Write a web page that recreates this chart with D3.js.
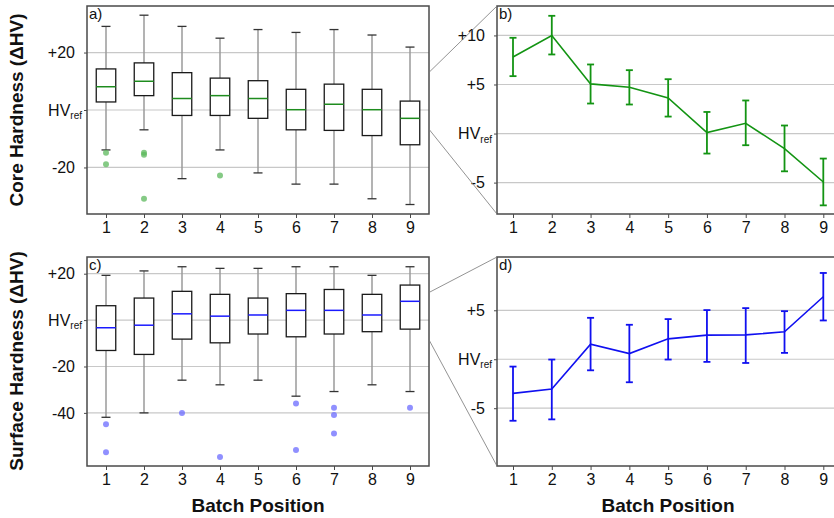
<!DOCTYPE html>
<html><head><meta charset="utf-8">
<script src="https://cdn.jsdelivr.net/npm/d3@7"></script>
<style>body{margin:0;background:#fff}svg{display:block}text{font-family:"Liberation Sans",Arial,sans-serif}</style>
</head><body><svg id="c" width="834" height="518"></svg>
<script>
const categories = [1,2,3,4,5,6,7,8,9];

const coreWhiskerHigh = [29.1, 33.0, 29.1, 25.0, 28.0, 27.0, 28.0, 26.1, 21.9];
const coreQ3          = [14.3, 16.4, 13.0, 11.1, 10.2, 7.2, 9.0, 7.2, 3.1];
const coreMedian      = [8.1, 10.0, 4.0, 5.0, 4.0, 0.1, 2.0, 0.1, -2.9];
const coreQ1          = [2.8, 5.0, -1.9, -1.9, -2.9, -6.9, -7.1, -8.9, -12.1];
const coreWhiskerLow  = [-13.9, -6.9, -23.9, -13.9, -21.9, -25.8, -25.8, -30.9, -32.9];
const coreOutliers    = [[-14.9, -18.9], [-14.9, -15.6, -30.9], [], [-22.8], [], [], [], [], []];

const surfWhiskerHigh = [19.3, 21.2, 23.0, 22.3, 22.3, 23.0, 23.0, 19.3, 23.0];
const surfQ3          = [6.2, 9.5, 12.4, 11.1, 9.5, 11.4, 13.2, 11.1, 15.1];
const surfMedian      = [-3.3, -2.2, 2.7, 1.7, 2.2, 4.2, 4.2, 2.2, 8.1];
const surfQ1          = [-13.1, -14.8, -8.2, -9.8, -6.0, -7.2, -6.0, -5.0, -3.9];
const surfWhiskerLow  = [-41.9, -40.0, -25.9, -27.9, -25.9, -32.8, -30.8, -27.9, -30.8];
const surfOutliers    = [[-44.9, -57.0], [], [-40.0], [-59.0], [], [-36.0, -56.0], [-37.8, -40.9, -48.9], [], [-37.8]];

const coreMean    = [7.8, 10.0, 5.06, 4.72, 3.63, 0.1, 1.05, -1.53, -4.94];
const coreErrHigh = [9.76, 12.0, 7.04, 6.46, 5.54, 2.2, 3.37, 0.82, -2.55];
const coreErrLow  = [5.85, 8.06, 3.06, 2.96, 1.73, -2.04, -1.19, -3.85, -7.32];

const surfMean    = [-3.48, -3.04, 1.54, 0.58, 2.08, 2.46, 2.49, 2.80, 6.38];
const surfErrHigh = [-0.75, -0.03, 4.23, 3.52, 4.10, 5.02, 5.22, 4.91, 8.81];
const surfErrLow  = [-6.28, -6.14, -1.13, -2.35, -0.03, -0.27, -0.38, 0.65, 3.96];

const ticksA = [20, 0, -20];
const ticksB = [10, 5, 0, -5];
const ticksC = [20, 0, -20, -40];
const ticksD = [5, 0, -5];

const zoomRangeA = [13.1, -6.7];
const zoomRangeC = [11.9, -8.5];

const svg = d3.select("#c");
const GRID = "#c8c8c8", FRAME = "#4a4a4a";

function yAxisLabels(g, scale, ticks, x) {
  const ax = g.append("g").attr("transform", `translate(${x},0)`)
    .call(d3.axisLeft(scale).tickValues(ticks).tickSize(3).tickPadding(9).tickFormat(""));
  ax.select(".domain").remove();
  ax.selectAll(".tick line").attr("stroke", FRAME);
  ax.selectAll(".tick").each(function(v) {
    const t = d3.select(this).select("text").attr("font-size", 16).attr("fill", "#111");
    t.text(null);
    if (v === 0) {
      t.attr("x", -5);
      t.append("tspan").text("HV");
      t.append("tspan").text("ref").attr("font-size", 10).attr("dy", "0.35em");
    } else {
      t.text(v > 0 ? "+" + v : "-" + Math.abs(v));
    }
  });
}
function xAxisLabels(g, scale, y) {
  const ax = g.append("g").attr("transform", `translate(0,${y})`)
    .call(d3.axisBottom(scale).tickValues(categories).tickSize(4).tickPadding(4).tickFormat(d3.format("d")));
  ax.select(".domain").remove();
  ax.selectAll(".tick line").attr("stroke", FRAME);
  ax.selectAll(".tick text").attr("font-size", 16).attr("fill", "#111");
}
function grid(g, x0, x1, scale, ticks) {
  g.append("g").selectAll("line").data(ticks).join("line")
    .attr("x1", x0).attr("x2", x1).attr("y1", d => scale(d)).attr("y2", d => scale(d))
    .attr("stroke", GRID).attr("stroke-width", 1.2);
}

function boxPanel(p) {
  const g = svg.append("g");
  const x = d3.scaleLinear().domain([0.5, 9.5]).range([p.x0, p.x1]);
  const y = d3.scaleLinear().domain(p.domain).range([p.y1, p.y0]);
  grid(g, p.x0, p.x1, y, p.ticks);
  const bw = 19.5, cw = 9;
  const items = categories.map((c, i) => ({c, wh: p.wh[i], q3: p.q3[i], med: p.med[i], q1: p.q1[i], wl: p.wl[i], out: p.out[i]}));
  const bx = g.append("g").selectAll("g").data(items).join("g");
  bx.append("line").attr("x1", d => x(d.c)).attr("x2", d => x(d.c)).attr("y1", d => y(d.wh)).attr("y2", d => y(d.q3)).attr("stroke", "#9a9a9a").attr("stroke-width", 1.5);
  bx.append("line").attr("x1", d => x(d.c)).attr("x2", d => x(d.c)).attr("y1", d => y(d.q1)).attr("y2", d => y(d.wl)).attr("stroke", "#9a9a9a").attr("stroke-width", 1.5);
  bx.append("line").attr("x1", d => x(d.c) - cw/2).attr("x2", d => x(d.c) + cw/2).attr("y1", d => y(d.wh)).attr("y2", d => y(d.wh)).attr("stroke", "#333").attr("stroke-width", 1.3);
  bx.append("line").attr("x1", d => x(d.c) - cw/2).attr("x2", d => x(d.c) + cw/2).attr("y1", d => y(d.wl)).attr("y2", d => y(d.wl)).attr("stroke", "#333").attr("stroke-width", 1.3);
  bx.append("rect").attr("x", d => x(d.c) - bw/2).attr("width", bw).attr("y", d => y(d.q3)).attr("height", d => y(d.q1) - y(d.q3))
    .attr("fill", "#fff").attr("stroke", "#1a1a1a").attr("stroke-width", 1.3);
  bx.append("line").attr("x1", d => x(d.c) - bw/2).attr("x2", d => x(d.c) + bw/2).attr("y1", d => y(d.med)).attr("y2", d => y(d.med)).attr("stroke", p.medColor).attr("stroke-width", 1.5);
  bx.selectAll("circle").data(d => d.out.map(v => ({c: d.c, v}))).join("circle")
    .attr("cx", d => x(d.c)).attr("cy", d => y(d.v)).attr("r", 3).attr("fill", p.outColor).attr("fill-opacity", 0.75);
  g.append("rect").attr("x", p.x0).attr("y", p.y0).attr("width", p.x1 - p.x0).attr("height", p.y1 - p.y0)
    .attr("fill", "none").attr("stroke", FRAME).attr("stroke-width", 1.5);
  yAxisLabels(g, y, p.ticks, p.x0);
  xAxisLabels(g, x, p.y1);
  g.append("text").attr("x", p.x0 + 2).attr("y", p.y0 + 13).attr("font-size", 15).attr("fill", "#111").text(p.label);
  return y;
}

function linePanel(p) {
  const g = svg.append("g");
  const x = d3.scaleLinear().domain([1, 9]).range([513, 823.3]);
  const y = d3.scaleLinear().domain(p.domain).range([p.y1, p.y0]);
  grid(g, p.x0, 840, y, p.ticks);
  const items = categories.map((c, i) => ({c, m: p.mean[i], hi: p.hi[i], lo: p.lo[i]}));
  const cw = 7;
  const eb = g.append("g").selectAll("g").data(items).join("g").attr("stroke", p.color).attr("stroke-width", 1.8);
  eb.append("line").attr("x1", d => x(d.c)).attr("x2", d => x(d.c)).attr("y1", d => y(d.hi)).attr("y2", d => y(d.lo));
  eb.append("line").attr("x1", d => x(d.c) - cw/2).attr("x2", d => x(d.c) + cw/2).attr("y1", d => y(d.hi)).attr("y2", d => y(d.hi));
  eb.append("line").attr("x1", d => x(d.c) - cw/2).attr("x2", d => x(d.c) + cw/2).attr("y1", d => y(d.lo)).attr("y2", d => y(d.lo));
  g.append("path").datum(items).attr("fill", "none").attr("stroke", p.color).attr("stroke-width", 1.6)
    .attr("d", d3.line().x(d => x(d.c)).y(d => y(d.m)));
  g.append("rect").attr("x", p.x0).attr("y", p.y0).attr("width", 850 - p.x0).attr("height", p.y1 - p.y0)
    .attr("fill", "none").attr("stroke", FRAME).attr("stroke-width", 1.5);
  yAxisLabels(g, y, p.ticks, p.x0);
  xAxisLabels(g, x, p.y1);
  g.append("text").attr("x", p.x0 + 2).attr("y", p.y0 + 13).attr("font-size", 15).attr("fill", "#111").text(p.label);
}

function connectors(yLeft, range, xL, xR, yTop, yBot) {
  svg.append("g").selectAll("line").data([[range[0], yTop], [range[1], yBot]]).join("line")
    .attr("x1", xL).attr("y1", d => yLeft(d[0])).attr("x2", xR).attr("y2", d => d[1])
    .attr("stroke", "#777").attr("stroke-width", 0.8);
}

const yA = boxPanel({x0: 87, x1: 429, y0: 6, y1: 214, domain: [-36.2, 36.2], ticks: ticksA,
  wh: coreWhiskerHigh, q3: coreQ3, med: coreMedian, q1: coreQ1, wl: coreWhiskerLow, out: coreOutliers,
  medColor: "#1e8c1e", outColor: "#5cb85c", label: "a)"});
linePanel({x0: 497, y0: 6, y1: 214, domain: [-8.2, 13.0], ticks: ticksB,
  mean: coreMean, hi: coreErrHigh, lo: coreErrLow, color: "#139413", label: "b)"});
const yC = boxPanel({x0: 87, x1: 429, y0: 257, y1: 466, domain: [-62.9, 27.2], ticks: ticksC,
  wh: surfWhiskerHigh, q3: surfQ3, med: surfMedian, q1: surfQ1, wl: surfWhiskerLow, out: surfOutliers,
  medColor: "#1a1aff", outColor: "#6b6bff", label: "c)"});
linePanel({x0: 497, y0: 257, y1: 466, domain: [-10.9, 10.44], ticks: ticksD,
  mean: surfMean, hi: surfErrHigh, lo: surfErrLow, color: "#1010f0", label: "d)"});

connectors(yA, zoomRangeA, 429, 497, 6, 214);
connectors(yC, zoomRangeC, 429, 497, 257, 466);

svg.append("text").attr("transform", "translate(23,110) rotate(-90)").attr("text-anchor", "middle")
  .attr("font-size", 19).attr("font-weight", "bold").attr("fill", "#111").text("Core Hardness (\u0394HV)");
svg.append("text").attr("transform", "translate(23,361) rotate(-90)").attr("text-anchor", "middle")
  .attr("font-size", 19).attr("font-weight", "bold").attr("fill", "#111").text("Surface Hardness (\u0394HV)");
svg.append("text").attr("x", 258).attr("y", 512).attr("text-anchor", "middle")
  .attr("font-size", 19).attr("font-weight", "bold").attr("fill", "#111").text("Batch Position");
svg.append("text").attr("x", 668).attr("y", 512).attr("text-anchor", "middle")
  .attr("font-size", 19).attr("font-weight", "bold").attr("fill", "#111").text("Batch Position");
</script></body></html>
